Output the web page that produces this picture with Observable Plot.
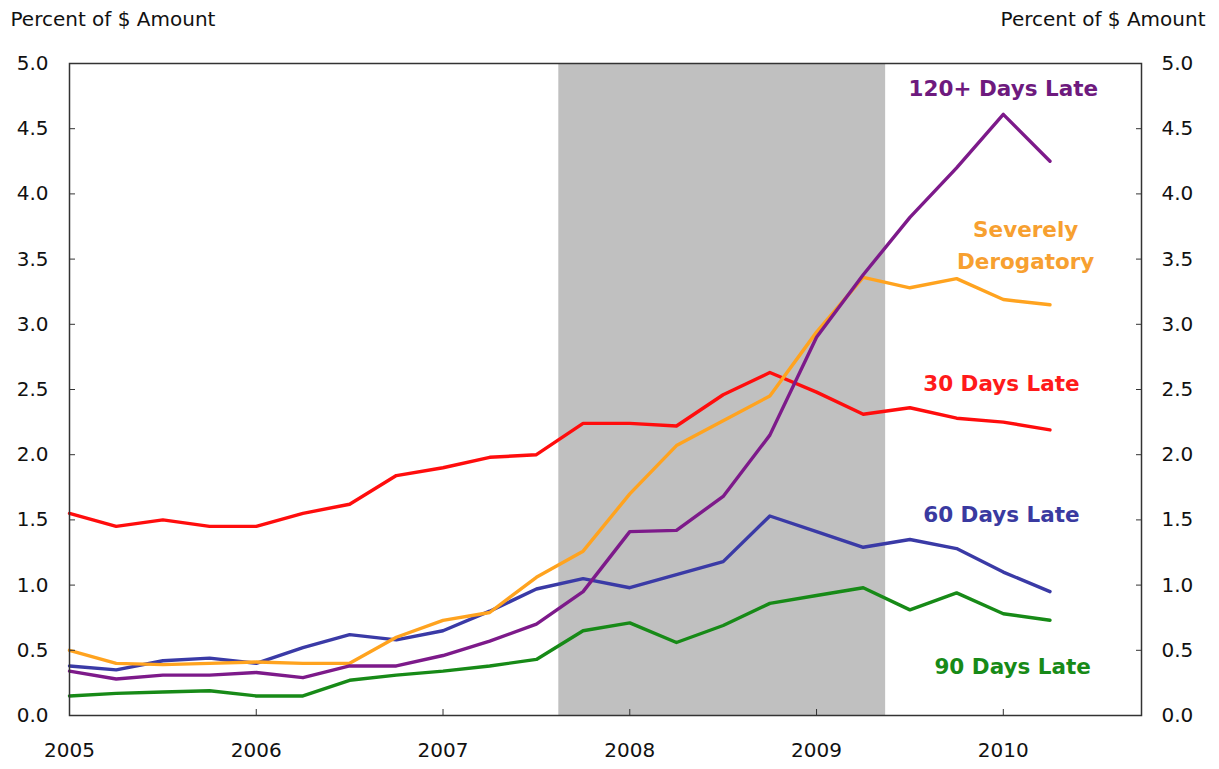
<!DOCTYPE html>
<html>
<head>
<meta charset="utf-8">
<script src="https://cdn.jsdelivr.net/npm/d3@7"></script>
<script src="https://cdn.jsdelivr.net/npm/@observablehq/plot@0.6"></script>
<style>
  body { margin: 0; background: #fff; }
  #chart svg { display: block; }
</style>
</head>
<body>
<div id="chart"></div>
<script>
// ---- Data ----
const quarters = [2005, 2005.25, 2005.5, 2005.75, 2006, 2006.25, 2006.5, 2006.75,
  2007, 2007.25, 2007.5, 2007.75, 2008, 2008.25, 2008.5, 2008.75,
  2009, 2009.25, 2009.5, 2009.75, 2010, 2010.25];

const days30 = [1.55, 1.45, 1.50, 1.45, 1.45, 1.55, 1.62, 1.84, 1.90, 1.98, 2.00, 2.24,
  2.24, 2.22, 2.46, 2.63, 2.48, 2.31, 2.36, 2.28, 2.25, 2.19];
const days60 = [0.38, 0.35, 0.42, 0.44, 0.40, 0.52, 0.62, 0.58, 0.65, 0.80, 0.97, 1.05,
  0.98, 1.08, 1.18, 1.53, 1.41, 1.29, 1.35, 1.28, 1.10, 0.95];
const days90 = [0.15, 0.17, 0.18, 0.19, 0.15, 0.15, 0.27, 0.31, 0.34, 0.38, 0.43, 0.65,
  0.71, 0.56, 0.69, 0.86, 0.92, 0.98, 0.81, 0.94, 0.78, 0.73];
const days120 = [0.34, 0.28, 0.31, 0.31, 0.33, 0.29, 0.38, 0.38, 0.46, 0.57, 0.70, 0.95,
  1.41, 1.42, 1.68, 2.15, 2.90, 3.38, 3.82, 4.20, 4.61, 4.25];
const severe = [0.50, 0.40, 0.39, 0.40, 0.41, 0.40, 0.40, 0.60, 0.73, 0.79, 1.06, 1.26,
  1.70, 2.07, 2.26, 2.45, 2.94, 3.36, 3.28, 3.35, 3.19, 3.15];

const seriesNames = ["30 Days Late", "60 Days Late", "90 Days Late", "120+ Days Late", "Severely Derogatory"];
const seriesColors = ["#ff0d0d", "#3a3aa6", "#178a17", "#7d1a8a", "#ffa31f"];
const labelColors  = ["#ff1a1a", "#3a3aa0", "#178a17", "#6e1a7e", "#f7a030"];

// label anchor points (in data units)
const labelText = ["30 Days Late", "60 Days Late", "90 Days Late", "120+ Days Late", "Severely\nDerogatory"];
const labelX = [2009.99, 2009.99, 2010.05, 2010.0, 2010.12];
const labelY = [2.57, 1.56, 0.40, 4.83, 3.625];

const recessionStart = [2007.62];
const recessionEnd = [2009.37];

const xTicks = [2005, 2006, 2007, 2008, 2009, 2010];
const yTicks = [0, 0.5, 1, 1.5, 2, 2.5, 3, 3.5, 4, 4.5, 5];
const axisTitle = "Percent of $ Amount";

// ---- Build tidy tables ----
const valueArrays = [days30, days60, days90, days120, severe];
const drawOrder = [2, 1, 0, 4, 3]; // green, blue, red, orange, purple on top
const lineData = drawOrder.flatMap(i =>
  quarters.map((q, j) => ({series: seriesNames[i], x: q, y: valueArrays[i][j]})));
const labels = labelText.map((t, i) => ({text: t, x: labelX[i], y: labelY[i], color: labelColors[i]}));
const recession = recessionStart.map((s, i) => ({start: s, end: recessionEnd[i]}));

const FONT = "DejaVu Sans, Liberation Sans, Arial, sans-serif";

const chart = Plot.plot({
  width: 1219,
  height: 769,
  marginLeft: 69,
  marginRight: 78,
  marginTop: 63,
  marginBottom: 54,
  style: {fontFamily: FONT, fontSize: "20px", color: "#111", background: "#fff"},
  x: {domain: [2005, 2010.74]},
  y: {domain: [0, 5]},
  color: {domain: seriesNames, range: seriesColors},
  marks: [
    Plot.rect(recession, {x1: "start", x2: "end", fill: "#c0c0c0"}),
    Plot.line(lineData, {x: "x", y: "y", z: "series", stroke: "series", strokeWidth: 3.4, strokeLinejoin: "round"}),
    Plot.frame({stroke: "#333", strokeWidth: 1.5}),
    Plot.axisX(xTicks, {anchor: "bottom", tickSize: 6, dy: -6, tickPadding: 27, tickFormat: d => String(d), label: null, stroke: "#333", fill: "#111"}),
    Plot.axisY(yTicks, {anchor: "left", tickSize: 6, dx: 6, tickPadding: 21, tickFormat: d => d.toFixed(1), label: null, stroke: "#333", fill: "#111"}),
    Plot.axisY(yTicks, {anchor: "right", tickSize: 6, dx: -6, tickPadding: 20, tickFormat: d => d.toFixed(1), label: null, stroke: "#333", fill: "#111"}),
    Plot.text([axisTitle], {frameAnchor: "top-left", dx: -59, dy: -52, textAnchor: "start", fontSize: 20, fill: "#111"}),
    Plot.text([axisTitle], {frameAnchor: "top-right", dx: 64, dy: -52, textAnchor: "end", fontSize: 20, fill: "#111"}),
    Plot.text(labels, {x: "x", y: "y", text: "text", fill: "color", fontWeight: "bold", fontSize: 21.5, lineHeight: 1.5, textAnchor: "middle"})
  ]
});
document.getElementById("chart").appendChild(chart);
</script>
</body>
</html>
